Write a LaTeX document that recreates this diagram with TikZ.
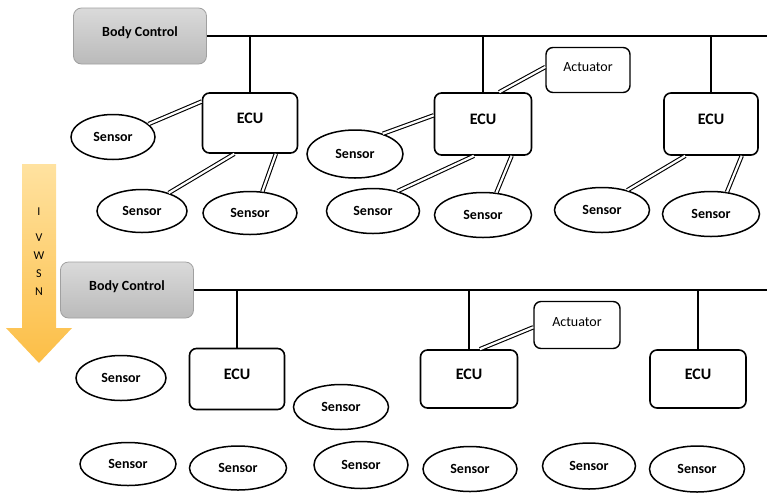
\documentclass[tikz,border=0pt]{standalone}
\usepackage{fontspec}
\setmainfont{Carlito}
\usetikzlibrary{shapes.geometric}

\definecolor{bcfilltop}{RGB}{218,218,218}
\definecolor{bcfillbot}{RGB}{186,186,186}
\definecolor{bcline}{RGB}{160,160,160}
\definecolor{arrtop}{RGB}{255,226,160}
\definecolor{arrbot}{RGB}{252,190,70}

\begin{document}
\begin{tikzpicture}[x=1pt,y=-1pt,
  bodyctrl/.style={draw=bcline,line width=0.8pt,rounded corners=8pt,
    top color=bcfilltop,bottom color=bcfillbot,
    minimum width=133pt,minimum height=56pt,text depth=9pt,
    font=\fontsize{14}{14}\selectfont\bfseries},
  ecubox/.style={draw,line width=1.6pt,rounded corners=7pt,
    minimum width=95pt,minimum height=60pt,text depth=10pt,
    font=\fontsize{16}{16}\selectfont\bfseries},
  actbox/.style={draw,line width=1.4pt,rounded corners=7pt,
    minimum width=84pt,minimum height=45pt,text depth=6pt,
    font=\fontsize{14}{14}\selectfont},
  sensor/.style={draw,ellipse,line width=1.5pt,
    minimum width=94pt,minimum height=45pt,inner sep=0pt,
    font=\fontsize{14}{14}\selectfont\bfseries},
  bus/.style={line width=1.8pt},
  drop/.style={line width=1.2pt},
  link/.style={double,double distance=2.2pt,line width=1.1pt}
]
\useasboundingbox (0,0) rectangle (767,496);

% IVWSN arrow
\shade[top color=arrtop,bottom color=arrbot]
  (22,164) -- (56,164) -- (56,328) -- (72,328) -- (39,363) -- (6,328) -- (22,328) -- cycle;
\node[font=\fontsize{12}{18}\selectfont,align=center] (iwsn) at (39,252) {I\\[8pt]V\\W\\S\\N};

% upper network
\node[bodyctrl] (bcA) at (140,36) {Body Control};
\coordinate (busA) at (767,36);
\draw[bus] (bcA.east) -- (busA);

\node[ecubox] (ecuA) at (250,123) {ECU};
\node[ecubox,minimum width=97pt,minimum height=62pt] (ecuB) at (483,124) {ECU};
\node[ecubox,minimum width=94pt,minimum height=62pt] (ecuC) at (711,124) {ECU};
\node[actbox] (actA) at (588,70) {Actuator};

\node[sensor,minimum width=84pt] (sA1) at (113,137) {Sensor};
\node[sensor,minimum width=90pt,minimum height=43pt] (sA2) at (142,211) {Sensor};
\node[sensor,minimum height=43pt] (sA3) at (250,213) {Sensor};
\node[sensor,minimum width=96pt,minimum height=48pt] (sB1) at (355,154) {Sensor};
\node[sensor,minimum width=93pt] (sB2) at (373,211) {Sensor};
\node[sensor,minimum width=97pt] (sB3) at (483,215) {Sensor};
\node[sensor,minimum width=95pt] (sC1) at (602,210) {Sensor};
\node[sensor,minimum width=97pt] (sC2) at (711,214) {Sensor};

\foreach \e in {ecuA,ecuB,ecuC}
  \draw[drop] (\e.north) -- (\e.north |- busA);

\draw[link] (ecuA.156) -- (sA1.20);
\draw[link] (ecuA.243) -- (sA2.34);
\draw[link] (ecuA.310) -- (sA3.60);
\draw[link] (ecuB.170) -- (sB1.36);
\draw[link] (ecuB.254) -- (sB2.39);
\draw[link] (ecuB.312) -- (sB3.59);
\draw[link] (ecuB.63) -- (actA.176);
\draw[link] (ecuC.231) -- (sC1.38);
\draw[link] (ecuC.314) -- (sC2.54);

% lower network
\node[bodyctrl] (bcB) at (127,290) {Body Control};
\coordinate (busB) at (767,290);
\draw[bus] (bcB.east) -- (busB);

\node[ecubox,minimum height=61pt] (ecuD) at (237,379) {ECU};
\node[ecubox,minimum width=97pt,minimum height=58pt] (ecuE) at (469,379) {ECU};
\node[ecubox,minimum width=96pt,minimum height=58pt] (ecuF) at (698,379) {ECU};
\node[actbox,minimum width=86pt,minimum height=47pt] (actB) at (577,325) {Actuator};

\node[sensor,minimum width=90pt] (sD) at (121,378) {Sensor};
\node[sensor,minimum width=95pt] (sE) at (341,407) {Sensor};
\node[sensor,minimum width=96pt,minimum height=43pt] (sL1) at (128,464) {Sensor};
\node[sensor,minimum width=97pt,minimum height=44pt] (sL2) at (238,468) {Sensor};
\node[sensor,minimum height=47pt] (sL3) at (361,465) {Sensor};
\node[sensor] (sL4) at (470,469) {Sensor};
\node[sensor,minimum width=93pt,minimum height=46pt] (sL5) at (589,466) {Sensor};
\node[sensor,minimum width=95pt,minimum height=46pt] (sL6) at (697,469) {Sensor};

\foreach \e in {ecuD,ecuE,ecuF}
  \draw[drop] (\e.north) -- (\e.north |- busB);

\draw[link] (ecuE.70) -- (actB.183);
\end{tikzpicture}
\end{document}
